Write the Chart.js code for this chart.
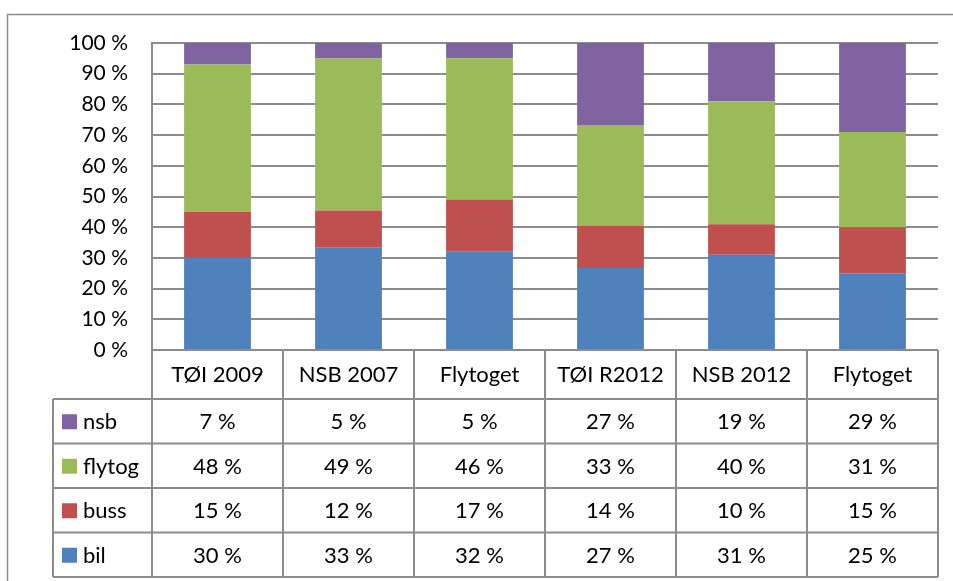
<!DOCTYPE html>
<html lang="no">
<head>
<meta charset="UTF-8">
<title>Reisemiddelfordeling</title>
<script src="https://cdn.jsdelivr.net/npm/chart.js"></script>
<style>
  html, body { margin: 0; padding: 0; background: #fff; }
</style>
</head>
<body>
<canvas id="myChart" width="953" height="581"></canvas>
<script>
// categories and series (percent, as printed in the table)
const categories = ['TØI 2009', 'NSB 2007', 'Flytoget', 'TØI R2012', 'NSB 2012', 'Flytoget'];
const bil    = [30, 33, 32, 27, 31, 25];
const buss   = [15, 12, 17, 14, 10, 15];
const flytog = [48, 49, 46, 33, 40, 31];
const nsb    = [7, 5, 5, 27, 19, 29];

const seriesNames  = ['bil', 'buss', 'flytog', 'nsb'];
const seriesValues = [bil, buss, flytog, nsb];
const seriesColors = ['#4F81BD', '#C0504D', '#9BBB59', '#8064A2'];

// 100 % stacked: each column is scaled to its own total
const totals = categories.map((c, i) => seriesValues.reduce((s, arr) => s + arr[i], 0));

const gridColor = '#8c8c8c';
const family = 'Lato, Calibri, sans-serif';

// table under the plot + outer frame
const tablePlugin = {
    id: 'dataTable',
    beforeDraw(chart) {
        const ctx = chart.ctx;
        ctx.save();
        ctx.strokeStyle = gridColor;
        ctx.lineWidth = 1.5;
        ctx.strokeRect(7.5, 14.5, 1200, 1200);
        ctx.restore();
    },
    afterDraw(chart) {
        const ctx = chart.ctx;
        const area = chart.chartArea;
        const xs = chart.scales.x;
        const colW = (area.right - area.left) / categories.length;
        const labelLeft = 53;
        const catBottom = area.bottom + 49;
        const rowH = 44.5;
        const rows = seriesNames.length;
        const tableBottom = catBottom + rows * rowH;

        ctx.save();
        ctx.strokeStyle = gridColor;
        ctx.lineWidth = 2;
        ctx.beginPath();
        for (let k = 0; k <= categories.length; k++) {
            const x = area.left + k * colW;
            ctx.moveTo(x, area.bottom);
            ctx.lineTo(x, tableBottom);
        }
        ctx.moveTo(labelLeft, catBottom);
        ctx.lineTo(labelLeft, tableBottom);
        for (let r = 0; r <= rows; r++) {
            const y = catBottom + r * rowH;
            ctx.moveTo(labelLeft, y);
            ctx.lineTo(area.right, y);
        }
        ctx.stroke();

        ctx.fillStyle = '#000';
        ctx.font = '22px ' + family;
        ctx.textAlign = 'center';
        ctx.textBaseline = 'middle';
        categories.forEach((c, i) => {
            ctx.fillText(c, xs.getPixelForValue(i), area.bottom + 25);
        });

        // rows top to bottom: nsb, flytog, buss, bil
        for (let r = 0; r < rows; r++) {
            const s = rows - 1 - r;
            const yMid = catBottom + r * rowH + rowH / 2 + 1;
            ctx.fillStyle = seriesColors[s];
            ctx.fillRect(62, yMid - 8, 15, 15);
            ctx.fillStyle = '#000';
            ctx.textAlign = 'left';
            ctx.fillText(seriesNames[s], 83, yMid);
            ctx.textAlign = 'center';
            seriesValues[s].forEach((v, i) => {
                ctx.fillText(v + ' %', xs.getPixelForValue(i), yMid);
            });
        }
        ctx.restore();
    }
};

const ctx = document.getElementById('myChart').getContext('2d');
const myChart = new Chart(ctx, {
    type: 'bar',
    data: {
        labels: categories,
        datasets: seriesNames.map((name, i) => ({
            label: name,
            data: seriesValues[i].map((v, j) => v / totals[j] * 100),
            backgroundColor: seriesColors[i],
            borderWidth: 0,
            categoryPercentage: 1,
            barPercentage: 0.51
        }))
    },
    options: {
        responsive: false,
        animation: false,
        layout: {
            padding: { left: 0, top: 43, right: 15, bottom: 231 }
        },
        scales: {
            x: {
                stacked: true,
                display: false
            },
            y: {
                stacked: true,
                min: 0,
                max: 100,
                afterFit(scale) { scale.width = 152; },
                ticks: {
                    stepSize: 10,
                    padding: 24,
                    color: '#000',
                    font: { family: family, size: 21 },
                    callback: v => v + ' %'
                },
                grid: {
                    color: gridColor,
                    lineWidth: 2,
                    drawTicks: false
                },
                border: { display: true, color: gridColor, width: 2 }
            }
        },
        plugins: {
            legend: { display: false },
            tooltip: { enabled: false }
        }
    },
    plugins: [tablePlugin]
});
</script>
</body>
</html>
